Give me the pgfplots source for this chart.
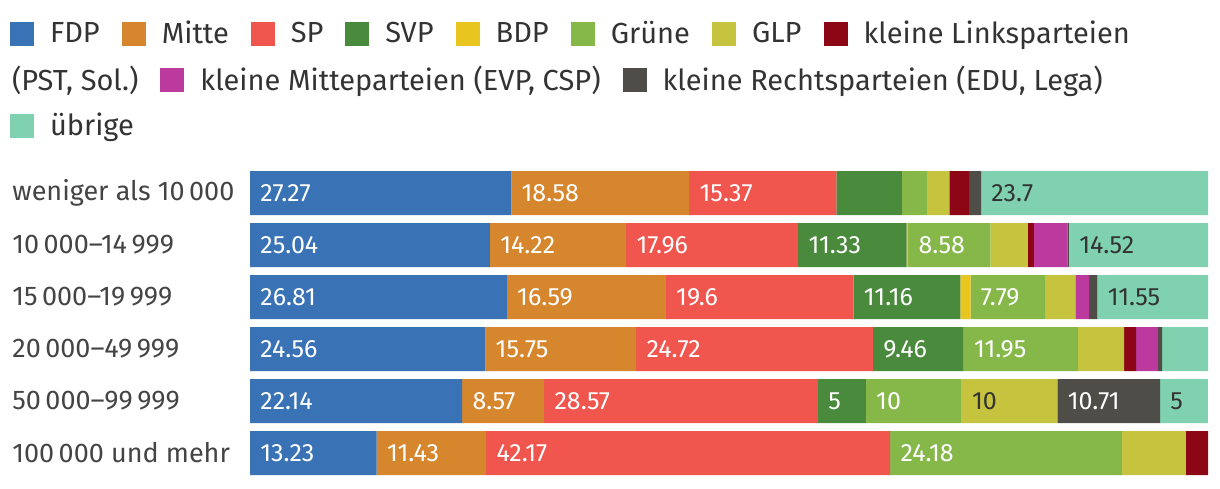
\documentclass[border=0pt]{standalone}
\usepackage{pgfplots}
\pgfplotsset{compat=1.18}
\usepackage{fontspec}
\setmainfont{Fira Sans}
\definecolor{cFDP}{HTML}{3A72B6}
\definecolor{cMitte}{HTML}{D6862D}
\definecolor{cSP}{HTML}{F0554E}
\definecolor{cSVP}{HTML}{4A8A3D}
\definecolor{cBDP}{HTML}{E8C61F}
\definecolor{cGruene}{HTML}{85B749}
\definecolor{cGLP}{HTML}{C6C43E}
\definecolor{cLinke}{HTML}{8C0616}
\definecolor{cKM}{HTML}{BC3A9D}
\definecolor{cRechts}{HTML}{4F4D48}
\definecolor{cUebrige}{HTML}{7FD1B0}
\definecolor{txt}{HTML}{333333}
\definecolor{ylab}{HTML}{444444}
\pgfplotsset{
  geom/.style={at={(125pt,4.5pt)}, anchor=south west,
    scale only axis, width=479pt, height=156pt},
  sq/.style={legend image code/.code={\fill[##1] (0pt,-6pt) rectangle (12pt,6pt);}},
  lgd/.style={legend columns=-1, legend cell align=left,
    legend style={draw=none, fill=none, inner sep=0pt, outer sep=0pt, text=txt,
      font=\fontsize{14.5}{17}\selectfont, nodes={inner sep=0pt},
      /tikz/every odd column/.append style={column sep=8pt},
      /tikz/every even column/.append style={column sep=11pt}}},
  lbl/.style={draw=none, mark=none, nodes near coords, point meta=explicit symbolic,
    every node near coord/.append style={anchor=west, xshift=5pt, inner sep=0pt, text=#1,
      font=\fontsize{12.5}{15}\selectfont}},
}
\begin{document}
\begin{tikzpicture}
\path[use as bounding box] (0,0) rectangle (610pt,244pt);
\begin{axis}[
  geom,
  xbar stacked, bar width=22pt,
  xmin=0, xmax=100, ymin=-0.5, ymax=5.5, y dir=reverse,
  axis line style={draw=none}, major tick length=0pt,
  xtick=\empty, ytick={0,1,2,3,4,5},
  yticklabels={weniger als 10\,000, 10\,000–14\,999, 15\,000–19\,999, 20\,000–49\,999, 50\,000–99\,999, 100\,000 und mehr},
  yticklabel style={anchor=west, xshift=-119pt, inner sep=0pt, text=ylab, font=\fontsize{13.5}{15}\selectfont},
  sq, lgd,
  legend style={at={(-0.2505,1.4263)}, anchor=west},
]
\addplot[fill=cFDP, draw=none] coordinates {(27.27,0) (25.04,1) (26.81,2) (24.56,3) (22.14,4) (13.23,5)};
\addlegendentry{FDP}
\addplot[fill=cMitte, draw=none] coordinates {(18.58,0) (14.22,1) (16.59,2) (15.75,3) (8.57,4) (11.43,5)};
\addlegendentry{Mitte}
\addplot[fill=cSP, draw=none] coordinates {(15.37,0) (17.96,1) (19.6,2) (24.72,3) (28.57,4) (42.17,5)};
\addlegendentry{SP}
\addplot[fill=cSVP, draw=none] coordinates {(6.82,0) (11.33,1) (11.16,2) (9.46,3) (5,4) (0,5)};
\addlegendentry{SVP}
\addplot[fill=cBDP, draw=none] coordinates {(0,0) (0.15,1) (1.05,2) (0,3) (0,4) (0,5)};
\addlegendentry{BDP}
\addplot[fill=cGruene, draw=none] coordinates {(2.69,0) (8.58,1) (7.79,2) (11.95,3) (10,4) (24.18,5)};
\addlegendentry{Grüne}
\addplot[fill=cGLP, draw=none] coordinates {(2.27,0) (3.9,1) (3.15,2) (4.8,3) (10,4) (6.68,5)};
\addlegendentry{GLP}
\addplot[fill=cLinke, draw=none] coordinates {(2.07,0) (0.65,1) (0,2) (1.25,3) (0,4) (2.31,5)};
\addlegendentry{kleine Linksparteien}
\addplot[fill=cKM, draw=none] coordinates {(0,0) (3.5,1) (1.45,2) (2.3,3) (0,4) (0,5)};
\addplot[fill=cRechts, draw=none] coordinates {(1.24,0) (0.15,1) (0.85,2) (0.42,3) (10.71,4) (0,5)};
\addplot[fill=cUebrige, draw=none] coordinates {(23.7,0) (14.52,1) (11.55,2) (4.79,3) (5,4) (0,5)};
\end{axis}
% value labels, placed at the start of each segment
\begin{axis}[
  geom, xmin=0, xmax=100, ymin=-0.5, ymax=5.5, y dir=reverse, hide axis,
]
\addplot[lbl=white] coordinates {
  (0,0) [27.27] (27.27,0) [18.58] (45.85,0) [15.37]
  (0,1) [25.04] (25.04,1) [14.22] (39.26,1) [17.96] (57.22,1) [11.33] (68.70,1) [8.58]
  (0,2) [26.81] (26.81,2) [16.59] (43.40,2) [19.6] (63.00,2) [11.16] (75.21,2) [7.79]
  (0,3) [24.56] (24.56,3) [15.75] (40.31,3) [24.72] (65.03,3) [9.46] (74.49,3) [11.95]
  (0,4) [22.14] (22.14,4) [8.57] (30.71,4) [28.57] (59.28,4) [5] (64.28,4) [10] (84.28,4) [10.71]
  (0,5) [13.23] (13.23,5) [11.43] (24.66,5) [42.17] (66.83,5) [24.18]
};
\addplot[lbl=txt] coordinates {
  (76.30,0) [23.7] (85.48,1) [14.52] (88.45,2) [11.55] (74.28,4) [10] (94.99,4) [5]
};
\end{axis}
\begin{axis}[
  geom, xmin=0, xmax=1, ymin=0, ymax=1, hide axis,
  sq, lgd,
  legend style={at={(-0.2651,1.2788)}, anchor=west},
]
\addlegendimage{empty legend}
\addlegendentry{(PST, Sol.)}
\addlegendimage{fill=cKM, draw=none}
\addlegendentry{kleine Mitteparteien (EVP, CSP)}
\addlegendimage{fill=cRechts, draw=none}
\addlegendentry{kleine Rechtsparteien (EDU, Lega)}
\end{axis}
\begin{axis}[
  geom, xmin=0, xmax=1, ymin=0, ymax=1, hide axis,
  sq, lgd,
  legend style={at={(-0.2505,1.1314)}, anchor=west},
]
\addlegendimage{fill=cUebrige, draw=none}
\addlegendentry{übrige}
\end{axis}
\end{tikzpicture}
\end{document}
